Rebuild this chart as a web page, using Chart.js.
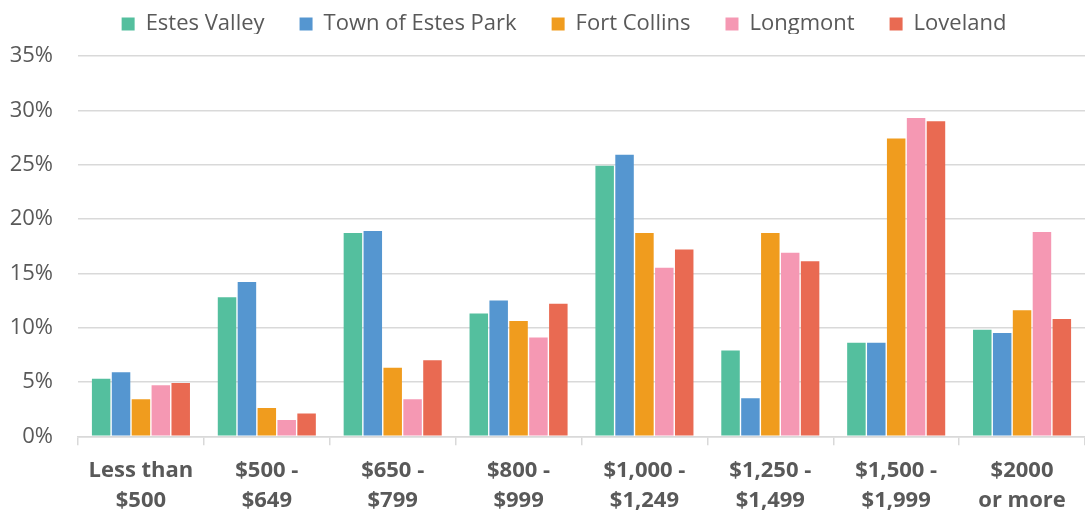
<!DOCTYPE html>
<html>
<head>
<meta charset="utf-8">
<script src="https://cdn.jsdelivr.net/npm/chart.js@4/dist/chart.umd.min.js"></script>
<style>
  html, body { margin: 0; padding: 0; background: #fff; }
  #wrap { width: 1085px; height: 512px; position: relative; }
</style>
</head>
<body>
<div id="wrap"><canvas id="rentChart"></canvas></div>
<script>
// Data (percent of renter households by gross rent)
const categories = [
  ['Less than', '$500'], ['$500 -', '$649'], ['$650 -', '$799'], ['$800 -', '$999'],
  ['$1,000 -', '$1,249'], ['$1,250 -', '$1,499'], ['$1,500 -', '$1,999'], ['$2000', 'or more']
];
const estesValley = [5.3, 12.8, 18.7, 11.3, 24.9, 7.9, 8.6, 9.8];
const townEstesPark = [5.9, 14.2, 18.9, 12.5, 25.9, 3.5, 8.6, 9.5];
const fortCollins = [3.4, 2.6, 6.3, 10.6, 18.7, 18.7, 27.4, 11.6];
const longmont = [4.7, 1.5, 3.4, 9.1, 15.5, 16.9, 29.3, 18.8];
const loveland = [4.9, 2.1, 7.0, 12.2, 17.2, 16.1, 29.0, 10.8];
const yTicks = [0, 5, 10, 15, 20, 25, 30, 35];

const FONT = '"Open Sans", "Noto Sans", sans-serif';
const textColor = '#595959';
const gridColor = '#d9d9d9';

const series = [
  { label: 'Estes Valley', data: estesValley, color: '#54bf9e' },
  { label: 'Town of Estes Park', data: townEstesPark, color: '#5596d0' },
  { label: 'Fort Collins', data: fortCollins, color: '#f09c1e' },
  { label: 'Longmont', data: longmont, color: '#f598b3' },
  { label: 'Loveland', data: loveland, color: '#e96a52' }
];

// legend: wide item spacing but a compact block, nudged into place
const legendPlace = {
  id: 'legendPlace',
  beforeInit(chart) {
    const lg = chart.legend;
    const fit = lg.fit;
    lg.fit = function () { fit.call(this); this.height = 56; };
  },
  afterLayout(chart) {
    const lg = chart.legend;
    lg.top = -22; lg.bottom = lg.top + lg.height;
    lg.left += 20; lg.right += 20;
  }
};

new Chart(document.getElementById('rentChart'), {
  type: 'bar',
  data: {
    labels: categories,
    datasets: series.map(s => ({
      label: s.label, data: s.data, backgroundColor: s.color,
      categoryPercentage: 0.79, barPercentage: 0.93
    }))
  },
  options: {
    responsive: true, maintainAspectRatio: false, animation: false,
    layout: { padding: { top: 0, right: -3, left: 0, bottom: -14 } },
    plugins: {
      legend: {
        position: 'top',
        labels: {
          font: { family: FONT, size: 22 }, color: textColor,
          boxWidth: 13, boxHeight: 13, padding: 35
        }
      },
      tooltip: { enabled: false }
    },
    scales: {
      y: {
        min: 0, max: 35,
        afterBuildTicks: ax => { ax.ticks = yTicks.map(v => ({ value: v })); },
        afterFit: ax => { ax.width = 78; },
        ticks: {
          callback: v => v + '%', padding: 25,
          font: { family: FONT, size: 22 }, color: textColor
        },
        grid: { color: gridColor, lineWidth: 1.5, drawTicks: false },
        border: { display: false }
      },
      x: {
        ticks: {
          font: { family: FONT, size: 22, weight: 'bold', lineHeight: 1.38 },
          color: textColor, padding: 10, maxRotation: 0, autoSkip: false
        },
        grid: { offset: true, drawOnChartArea: false, color: gridColor, lineWidth: 1.5, tickLength: 9 },
        border: { color: gridColor, width: 1.5 }
      }
    }
  },
  plugins: [legendPlace]
});
</script>
</body>
</html>
